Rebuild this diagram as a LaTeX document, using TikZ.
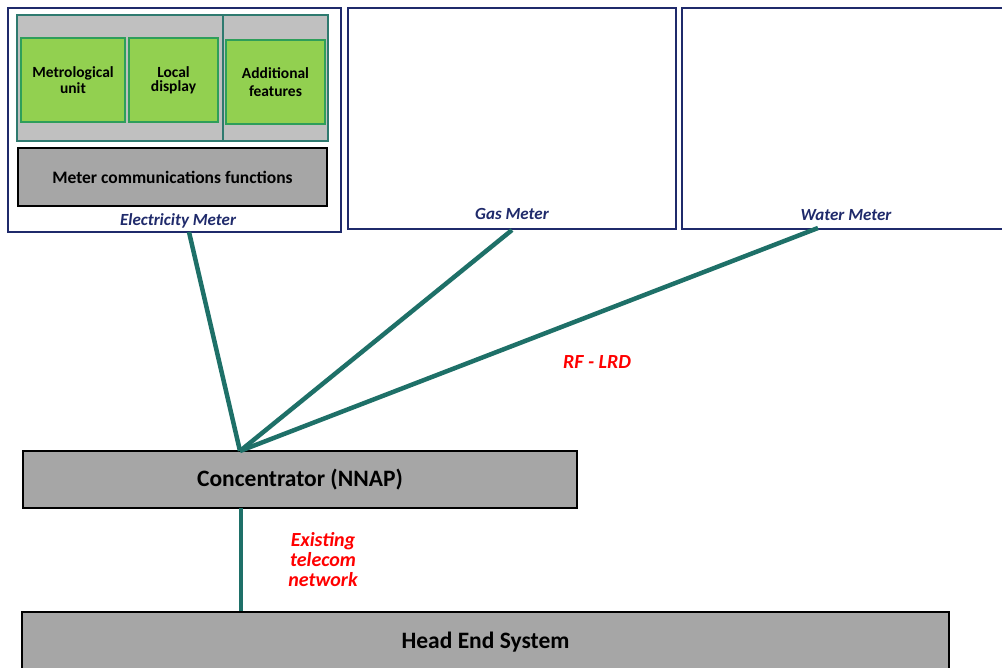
\documentclass[tikz,border=0pt]{standalone}
\usepackage{fontspec}
\setmainfont{Carlito}
\usetikzlibrary{calc}
\definecolor{navy}{HTML}{1F2A6B}
\definecolor{link}{HTML}{1E7068}
\definecolor{leaf}{HTML}{92D050}
\definecolor{leafline}{HTML}{2E9E5A}
\definecolor{panel}{HTML}{C0C0C0}
\definecolor{panelline}{HTML}{2E7A6F}
\definecolor{block}{HTML}{A6A6A6}
\definecolor{note}{HTML}{FF0000}
\tikzset{
  meterbox/.style={draw=navy, line width=2pt, fill=white, inner sep=0pt},
  unitbox/.style={draw=leafline, line width=2pt, fill=leaf, inner sep=0pt, align=center,
    font=\fontsize{15.5}{18}\selectfont\bfseries},
  greybox/.style={draw=black, line width=2pt, fill=block, inner sep=0pt},
  meterlabel/.style={text=navy, font=\fontsize{17}{19}\selectfont\bfseries\itshape},
  rednote/.style={text=note, align=center, font=\fontsize{20}{20}\selectfont\bfseries\itshape},
  wire/.style={draw=link, line width=4.5pt}
}
\begin{document}
\begin{tikzpicture}[x=1pt,y=-1pt]
\useasboundingbox (0,0) rectangle (1002,668);
\clip (0,0) rectangle (1002,668);

% meter enclosures
\node[meterbox, minimum width=333pt, minimum height=224pt] (elec) at (174.5,120) {};
\node[meterbox, minimum width=328pt, minimum height=221pt] (gas) at (512,118.5) {};
\node[meterbox, minimum width=328pt, minimum height=221pt] (water) at (846,118.5) {};

% electricity meter internals
\node[draw=panelline, line width=1.5pt, fill=panel, minimum width=311pt, minimum height=126pt, inner sep=0pt] (panel) at (172.5,78) {};
\coordinate (divtop) at (223,15);
\coordinate (divbot) at (223,141);
\draw[panelline, line width=1.5pt] (divtop) -- (divbot);
\node[unitbox, minimum width=104pt, minimum height=84pt] (metro) at (73,80) {\raisebox{-1pt}{\shortstack{Metrological\\unit}}};
\node[unitbox, minimum width=89pt, minimum height=84pt] (disp) at (173.5,80) {\raisebox{-1pt}{\shortstack{Local\\display}}};
\node[unitbox, minimum width=99pt, minimum height=84pt] (addf) at (275.5,82) {Additional\\features};
\node[greybox, minimum width=309pt, minimum height=58pt, font=\fontsize{17.5}{20}\selectfont\bfseries] (comms) at (172.5,177) {\raisebox{-1pt}{Meter communications functions}};

% meter captions
\node[meterlabel] (elecl) at (178,221) {Electricity Meter};
\node[meterlabel] (gasl) at (512,214) {Gas Meter};
\node[meterlabel] (waterl) at (846,215) {Water Meter};

% concentrator and head end
\node[greybox, minimum width=554pt, minimum height=57pt, font=\fontsize{23.5}{26}\selectfont\bfseries] (conc) at (300,479.5) {\raisebox{-1.5pt}{Concentrator (NNAP)}};
\node[greybox, minimum width=927pt, minimum height=80pt] (hes) at (485.5,652) {};
\node[font=\fontsize{23.5}{26}\selectfont\bfseries] (hesl) at (485.5,642.5) {Head End System};

% radio links
\coordinate (hub) at (240,451);
\coordinate (elecend) at (189,232);
\coordinate (waterend) at (818,228);
\draw[wire] (hub) -- (elecend);
\draw[wire] (hub) -- (gas.south);
\draw[wire] (hub) -- (waterend);
\coordinate (uptop) at (241,508);
\coordinate (upbot) at (241,611);
\draw[wire, line cap=butt] (uptop) -- (upbot);

% link annotations
\node[rednote] (rf) at (597,362) {RF - LRD};
\node[rednote] (tel) at (323,560) {Existing\\telecom\\network};
\end{tikzpicture}
\end{document}
